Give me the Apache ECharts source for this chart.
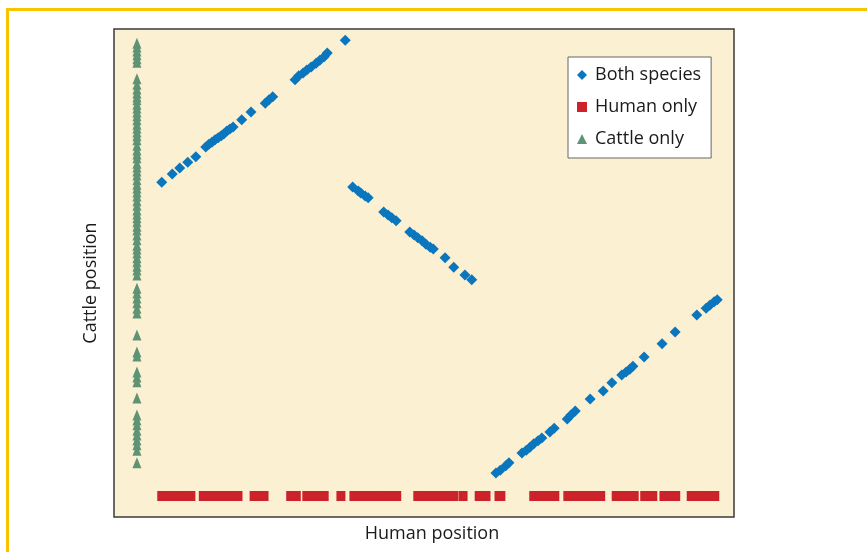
<!DOCTYPE html>
<html>
<head>
<meta charset="utf-8">
<script src="https://cdn.jsdelivr.net/npm/echarts@6/dist/echarts.min.js"></script>
<style>
html,body{margin:0;padding:0;background:#fff;}
#c{width:867px;height:552px;}
</style>
</head>
<body>
<div id="c"></div>
<script>
// ---- data (arbitrary position units, 0-100) ----
const seriesNames = ['Both species', 'Human only', 'Cattle only'];

const bothX = [7.7, 9.4, 10.6, 11.9, 13.2, 14.8, 15.3, 15.8, 16.3, 16.8, 17.3, 17.7, 18.2, 18.7, 19.2, 20.6, 22.1, 24.4, 25.0, 25.6, 29.2, 29.8, 30.5, 31.1, 31.8, 32.6, 33.2, 33.9, 34.4, 37.3,
  38.5, 39.4, 39.8, 40.5, 41.0, 43.5, 44.2, 44.8, 45.5, 47.7, 48.4, 49.0, 49.7, 50.3, 51.0, 51.5, 53.4, 54.8, 56.6, 57.7,
  61.6, 62.3, 63.2, 63.7, 65.8, 66.5, 67.1, 67.7, 68.4, 69.0, 70.3, 71.0, 73.1, 73.7, 74.4, 76.8, 78.9, 80.3, 81.9, 82.6, 83.2, 83.7, 85.5, 88.4, 90.5, 94.0, 95.5, 96.1, 96.8, 97.3];
const bothY = [68.6, 70.3, 71.5, 72.7, 73.8, 75.8, 76.4, 76.8, 77.3, 77.7, 78.1, 78.5, 79.1, 79.5, 79.9, 81.4, 83.0, 84.8, 85.5, 86.1, 89.6, 90.4, 91.0, 91.6, 92.2, 93.0, 93.6, 94.3, 95.1, 97.7,
  67.6, 66.8, 66.4, 65.8, 65.4, 62.5, 61.9, 61.3, 60.7, 58.4, 57.8, 57.2, 56.6, 55.9, 55.3, 54.9, 53.1, 51.2, 49.6, 48.6,
  9.0, 9.6, 10.5, 11.1, 13.1, 13.7, 14.3, 15.0, 15.6, 16.2, 17.4, 18.2, 20.1, 20.9, 21.7, 24.2, 25.8, 27.5, 29.1, 29.7, 30.3, 30.9, 32.8, 35.5, 37.9, 41.4, 42.8, 43.4, 44.1, 44.5];

const humanY = 4.3;
const humanX = [7.7, 8.4, 9.2, 10.0, 10.8, 11.6, 12.4, 14.4, 15.2, 16.0, 16.8, 17.6, 18.4, 19.2, 20.0, 22.6, 23.4, 24.2, 28.5, 29.4, 31.1, 31.9, 32.9, 33.9, 36.6,
  38.7, 39.7, 40.6, 41.6, 42.6, 43.5, 44.5, 45.6, 49.0, 50.0, 51.0, 51.9, 52.9, 53.9, 54.8, 56.3, 58.9, 60.0, 62.1, 62.4,
  67.7, 68.7, 69.8, 71.1, 73.2, 74.2, 75.2, 76.3, 77.4, 78.5, 81.0, 81.9, 82.9, 83.9, 85.6, 86.9, 88.7, 89.8, 90.6, 93.1, 94.0, 95.0, 96.0, 96.9];

const cattleX = 3.7;
const cattleY = [97.1, 96.3, 95.5, 94.7, 93.9, 93.2,
  89.8, 88.7, 87.7, 86.9, 86.1, 85.5, 84.6, 83.8, 83.0, 82.2, 81.4, 80.5, 79.7, 78.9, 78.1, 77.3, 76.2, 75.2, 74.4, 73.6, 72.5, 71.7, 70.9, 70.1, 69.1, 68.2, 67.4, 66.6, 65.8, 64.8, 63.9, 62.9, 62.1, 61.3, 60.5, 59.6, 58.8, 57.8, 56.8, 55.7, 54.9, 54.1, 53.1, 52.3, 51.4, 50.6, 49.6,
  46.9, 45.9, 44.9, 43.9, 42.8, 41.8, 37.3, 33.8, 33.0, 29.7, 28.7, 27.7, 24.4,
  20.9, 19.9, 18.9, 17.8, 16.8, 15.8, 14.8, 13.7, 11.1];

// ---- build ----
const bothData = bothX.map((x, i) => [x, bothY[i]]);
const humanData = humanX.map(x => [x, humanY]);
const cattleData = cattleY.map(y => [cattleX, y]);

const FONT = '"Open Sans", Lato, sans-serif';
const chart = echarts.init(document.getElementById('c'), null, {renderer: 'canvas'});
chart.setOption({
  animation: false,
  backgroundColor: '#ffffff',
  grid: {
    left: 114, top: 29, width: 620, height: 488,
    show: true, backgroundColor: '#fcf0d2', borderColor: '#3a3a3a', borderWidth: 1.5
  },
  xAxis: {
    type: 'value', min: 0, max: 100,
    axisLine: {show: false}, axisTick: {show: false}, axisLabel: {show: false}, splitLine: {show: false}
  },
  yAxis: {
    type: 'value', min: 0, max: 100,
    axisLine: {show: false}, axisTick: {show: false}, axisLabel: {show: false}, splitLine: {show: false}
  },
  legend: {
    orient: 'vertical',
    left: 568, top: 57,
    padding: [8, 10, 9, 9],
    backgroundColor: '#ffffff',
    borderColor: '#666666', borderWidth: 1,
    itemWidth: 10, itemHeight: 10, itemGap: 12,
    textStyle: {fontFamily: FONT, fontSize: 18, color: '#1a1a1a', lineHeight: 20, padding: [0, 0, 0, 3]},
    data: seriesNames
  },
  graphic: [
    {type: 'rect', shape: {x: 6, y: 8, width: 3, height: 544}, style: {fill: '#f9c300'}},
    {type: 'rect', shape: {x: 6, y: 8, width: 861, height: 3}, style: {fill: '#f9c300'}},
    {type: 'text', x: 432, y: 525, style: {text: 'Human position', font: '18px ' + FONT, fill: '#1a1a1a', textAlign: 'center', textVerticalAlign: 'top'}},
    {type: 'text', x: 82, y: 283, rotation: Math.PI / 2, style: {text: 'Cattle position', font: '18px ' + FONT, fill: '#1a1a1a', textAlign: 'center', textVerticalAlign: 'top'}}
  ],
  series: [
    {name: seriesNames[2], type: 'scatter', data: cattleData, symbol: 'triangle', symbolSize: [9, 11],
      itemStyle: {color: '#5e9474', opacity: 1}, z: 2},
    {name: seriesNames[1], type: 'scatter', data: humanData, symbol: 'rect', symbolSize: [9, 10],
      itemStyle: {color: '#cc2229', opacity: 1}, z: 3},
    {name: seriesNames[0], type: 'scatter', data: bothData, symbol: 'diamond', symbolSize: 11,
      itemStyle: {color: '#0a76bd', opacity: 1}, z: 4}
  ]
});
</script>
</body>
</html>
